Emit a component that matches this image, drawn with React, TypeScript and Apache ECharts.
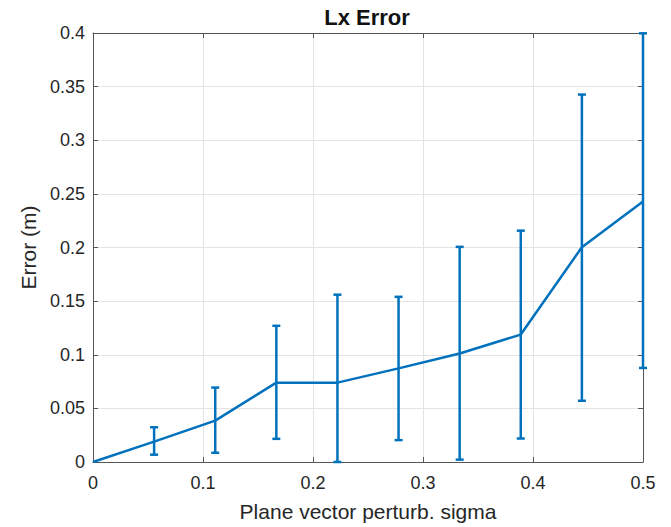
import React, { useEffect, useRef } from "react";
import * as echarts from "echarts";

const sigma = [0, 1 / 18, 2 / 18, 3 / 18, 4 / 18, 5 / 18, 6 / 18, 7 / 18, 8 / 18, 9 / 18];
const meanErr = [0, 0.019, 0.0386, 0.074, 0.074, 0.0873, 0.1012, 0.1188, 0.2003, 0.2429];
const lowErr = [0, 0.0068, 0.0086, 0.0216, 0.0, 0.0204, 0.0022, 0.0219, 0.0571, 0.0877];
const highErr = [0, 0.0324, 0.0694, 0.127, 0.156, 0.154, 0.2006, 0.2157, 0.3426, 0.3997];
const titleText = "Lx Error";
const xLabel = "Plane vector perturb. sigma";
const yLabel = "Error (m)";

const BLUE = "#0072BD";
const AXIS = "#555555";
const TEXT = "#262626";
const FONT = "Liberation Sans, Arial, Helvetica, sans-serif";

export default function App() {
  const ref = useRef<HTMLDivElement>(null);
  useEffect(() => {
    document.body.style.margin = "0";
    const chart = echarts.init(ref.current!, null, { renderer: "svg" });
    const lineData = sigma.map((x, i) => [x, meanErr[i]]);
    const errData = sigma.slice(1).map((x, j) => [x, lowErr[j + 1], highErr[j + 1]]);
    const axisCommon = {
      axisLine: { show: true, onZero: false, lineStyle: { color: AXIS, width: 1 } },
      axisTick: { show: true, inside: true, length: 5, lineStyle: { color: AXIS } },
    };
    chart.setOption({
      animation: false,
      backgroundColor: "#fff",
      textStyle: { fontFamily: FONT },
      grid: { left: 93, right: 28, top: 33, bottom: 62, containLabel: false },
      graphic: [
        {
          type: "text",
          x: 367,
          y: 17,
          style: {
            text: titleText,
            font: `bold 22px ${FONT}`,
            fill: "#111",
            align: "center",
            verticalAlign: "middle",
          },
        },
      ],
      xAxis: [
        {
          type: "value",
          min: 0,
          max: 0.5,
          interval: 0.1,
          ...axisCommon,
          axisLabel: { color: TEXT, fontSize: 18, margin: 12, fontFamily: FONT },
          splitLine: { show: true, lineStyle: { color: "#e3e3e3", width: 1 } },
          name: xLabel,
          nameLocation: "middle",
          nameGap: 39,
          nameTextStyle: { color: TEXT, fontSize: 21, fontFamily: FONT },
        },
        {
          type: "value",
          position: "top",
          min: 0,
          max: 0.5,
          interval: 0.1,
          ...axisCommon,
          axisLabel: { show: false },
          splitLine: { show: false },
        },
      ],
      yAxis: [
        {
          type: "value",
          min: 0,
          max: 0.4,
          interval: 0.05,
          ...axisCommon,
          axisLabel: { color: TEXT, fontSize: 18, margin: 8, fontFamily: FONT },
          splitLine: { show: true, lineStyle: { color: "#e3e3e3", width: 1 } },
          name: yLabel,
          nameLocation: "middle",
          nameGap: 52,
          nameTextStyle: { color: TEXT, fontSize: 21, fontFamily: FONT },
        },
        {
          type: "value",
          position: "right",
          min: 0,
          max: 0.4,
          interval: 0.05,
          ...axisCommon,
          axisLabel: { show: false },
          splitLine: { show: false },
        },
      ],
      series: [
        {
          type: "line",
          data: lineData,
          showSymbol: false,
          symbol: "none",
          lineStyle: { color: BLUE, width: 2.5 },
          z: 3,
        },
        {
          type: "custom",
          data: errData,
          z: 4,
          renderItem: (params: any, api: any) => {
            const x = api.value(0);
            const lo = api.coord([x, api.value(1)]);
            const hi = api.coord([x, api.value(2)]);
            const hw = 4;
            const style = { stroke: BLUE, lineWidth: 2.5 };
            return {
              type: "group",
              children: [
                { type: "line", shape: { x1: lo[0], y1: lo[1], x2: hi[0], y2: hi[1] }, style },
                { type: "line", shape: { x1: lo[0] - hw, y1: lo[1], x2: lo[0] + hw, y2: lo[1] }, style },
                { type: "line", shape: { x1: hi[0] - hw, y1: hi[1], x2: hi[0] + hw, y2: hi[1] }, style },
              ],
            };
          },
        },
      ],
    });
    return () => chart.dispose();
  }, []);
  return <div ref={ref} style={{ width: 671, height: 527 }} />;
}
